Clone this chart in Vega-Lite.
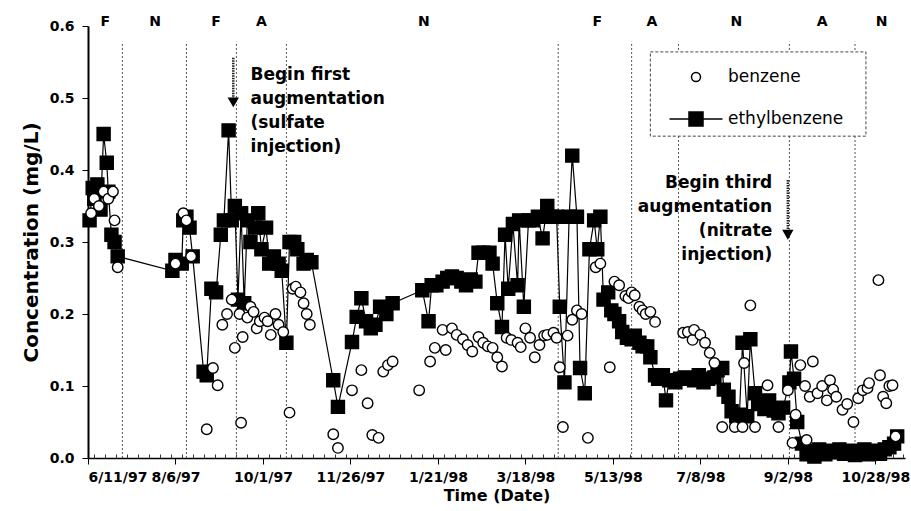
{
"$schema": "https://vega.github.io/schema/vega-lite/v6.json",
"width": 817, "height": 432,
"autosize": {"type": "none"},
"padding": {"left": 88, "top": 26, "right": 6, "bottom": 53},
"config": {"view": {"stroke": null}, "font": "DejaVu Sans",
  "axis": {"labelFont": "DejaVu Sans", "labelFontWeight": "bold", "labelFontSize": 14, "labelColor": "black", "titleFont": "DejaVu Sans", "titleFontWeight": "bold", "titleColor": "black", "tickColor": "black", "domainColor": "black", "grid": false},
  "legend": {"title": null, "orient": "none", "legendX": 597, "legendY": 40, "padding": 0,
    "symbolSize": 400, "symbolStrokeWidth": 1.5, "symbolStrokeColor": "black",
    "labelFont": "DejaVu Sans", "labelFontSize": 17, "labelColor": "black", "labelOffset": 21, "rowPadding": 23}},
"datasets": {
"conc": [
{"date":"1997-06-12","compound":"ethylbenzene","conc":0.33},
{"date":"1997-06-14","compound":"ethylbenzene","conc":0.375},
{"date":"1997-06-15","compound":"ethylbenzene","conc":0.36},
{"date":"1997-06-17","compound":"ethylbenzene","conc":0.38},
{"date":"1997-06-19","compound":"ethylbenzene","conc":0.345},
{"date":"1997-06-21","compound":"ethylbenzene","conc":0.45},
{"date":"1997-06-23","compound":"ethylbenzene","conc":0.41},
{"date":"1997-06-24","compound":"ethylbenzene","conc":0.37},
{"date":"1997-06-26","compound":"ethylbenzene","conc":0.31},
{"date":"1997-06-28","compound":"ethylbenzene","conc":0.30},
{"date":"1997-06-30","compound":"ethylbenzene","conc":0.28},
{"date":"1997-08-04","compound":"ethylbenzene","conc":0.26},
{"date":"1997-08-06","compound":"ethylbenzene","conc":0.275},
{"date":"1997-08-10","compound":"ethylbenzene","conc":0.27},
{"date":"1997-08-11","compound":"ethylbenzene","conc":0.33},
{"date":"1997-08-13","compound":"ethylbenzene","conc":0.335},
{"date":"1997-08-15","compound":"ethylbenzene","conc":0.32},
{"date":"1997-08-17","compound":"ethylbenzene","conc":0.28},
{"date":"1997-08-24","compound":"ethylbenzene","conc":0.12},
{"date":"1997-08-26","compound":"ethylbenzene","conc":0.115},
{"date":"1997-08-29","compound":"ethylbenzene","conc":0.235},
{"date":"1997-09-01","compound":"ethylbenzene","conc":0.23},
{"date":"1997-09-04","compound":"ethylbenzene","conc":0.31},
{"date":"1997-09-06","compound":"ethylbenzene","conc":0.33},
{"date":"1997-09-09","compound":"ethylbenzene","conc":0.455},
{"date":"1997-09-11","compound":"ethylbenzene","conc":0.33},
{"date":"1997-09-13","compound":"ethylbenzene","conc":0.35},
{"date":"1997-09-15","compound":"ethylbenzene","conc":0.22},
{"date":"1997-09-17","compound":"ethylbenzene","conc":0.34},
{"date":"1997-09-19","compound":"ethylbenzene","conc":0.215},
{"date":"1997-09-21","compound":"ethylbenzene","conc":0.33},
{"date":"1997-09-23","compound":"ethylbenzene","conc":0.30},
{"date":"1997-09-26","compound":"ethylbenzene","conc":0.32},
{"date":"1997-09-28","compound":"ethylbenzene","conc":0.34},
{"date":"1997-09-30","compound":"ethylbenzene","conc":0.29},
{"date":"1997-10-03","compound":"ethylbenzene","conc":0.32},
{"date":"1997-10-05","compound":"ethylbenzene","conc":0.27},
{"date":"1997-10-08","compound":"ethylbenzene","conc":0.28},
{"date":"1997-10-11","compound":"ethylbenzene","conc":0.27},
{"date":"1997-10-13","compound":"ethylbenzene","conc":0.26},
{"date":"1997-10-16","compound":"ethylbenzene","conc":0.16},
{"date":"1997-10-18","compound":"ethylbenzene","conc":0.30},
{"date":"1997-10-21","compound":"ethylbenzene","conc":0.30},
{"date":"1997-10-23","compound":"ethylbenzene","conc":0.29},
{"date":"1997-10-27","compound":"ethylbenzene","conc":0.27},
{"date":"1997-10-29","compound":"ethylbenzene","conc":0.275},
{"date":"1997-11-01","compound":"ethylbenzene","conc":0.272},
{"date":"1997-11-15","compound":"ethylbenzene","conc":0.108},
{"date":"1997-11-18","compound":"ethylbenzene","conc":0.071},
{"date":"1997-11-27","compound":"ethylbenzene","conc":0.161},
{"date":"1997-11-30","compound":"ethylbenzene","conc":0.196},
{"date":"1997-12-03","compound":"ethylbenzene","conc":0.222},
{"date":"1997-12-06","compound":"ethylbenzene","conc":0.19},
{"date":"1997-12-09","compound":"ethylbenzene","conc":0.18},
{"date":"1997-12-12","compound":"ethylbenzene","conc":0.185},
{"date":"1997-12-15","compound":"ethylbenzene","conc":0.21},
{"date":"1997-12-19","compound":"ethylbenzene","conc":0.20},
{"date":"1997-12-23","compound":"ethylbenzene","conc":0.215},
{"date":"1998-01-11","compound":"ethylbenzene","conc":0.233},
{"date":"1998-01-15","compound":"ethylbenzene","conc":0.19},
{"date":"1998-01-17","compound":"ethylbenzene","conc":0.24},
{"date":"1998-01-20","compound":"ethylbenzene","conc":0.24},
{"date":"1998-01-24","compound":"ethylbenzene","conc":0.245},
{"date":"1998-01-27","compound":"ethylbenzene","conc":0.25},
{"date":"1998-01-30","compound":"ethylbenzene","conc":0.252},
{"date":"1998-02-02","compound":"ethylbenzene","conc":0.25},
{"date":"1998-02-05","compound":"ethylbenzene","conc":0.245},
{"date":"1998-02-08","compound":"ethylbenzene","conc":0.24},
{"date":"1998-02-11","compound":"ethylbenzene","conc":0.248},
{"date":"1998-02-14","compound":"ethylbenzene","conc":0.245},
{"date":"1998-02-16","compound":"ethylbenzene","conc":0.285},
{"date":"1998-02-19","compound":"ethylbenzene","conc":0.285},
{"date":"1998-02-23","compound":"ethylbenzene","conc":0.285},
{"date":"1998-02-25","compound":"ethylbenzene","conc":0.27},
{"date":"1998-02-28","compound":"ethylbenzene","conc":0.215},
{"date":"1998-03-03","compound":"ethylbenzene","conc":0.182},
{"date":"1998-03-05","compound":"ethylbenzene","conc":0.31},
{"date":"1998-03-07","compound":"ethylbenzene","conc":0.235},
{"date":"1998-03-10","compound":"ethylbenzene","conc":0.325},
{"date":"1998-03-13","compound":"ethylbenzene","conc":0.24},
{"date":"1998-03-14","compound":"ethylbenzene","conc":0.33},
{"date":"1998-03-17","compound":"ethylbenzene","conc":0.21},
{"date":"1998-03-20","compound":"ethylbenzene","conc":0.33},
{"date":"1998-03-23","compound":"ethylbenzene","conc":0.33},
{"date":"1998-03-26","compound":"ethylbenzene","conc":0.335},
{"date":"1998-03-29","compound":"ethylbenzene","conc":0.305},
{"date":"1998-04-01","compound":"ethylbenzene","conc":0.35},
{"date":"1998-04-04","compound":"ethylbenzene","conc":0.335},
{"date":"1998-04-07","compound":"ethylbenzene","conc":0.335},
{"date":"1998-04-09","compound":"ethylbenzene","conc":0.21},
{"date":"1998-04-12","compound":"ethylbenzene","conc":0.105},
{"date":"1998-04-15","compound":"ethylbenzene","conc":0.335},
{"date":"1998-04-17","compound":"ethylbenzene","conc":0.42},
{"date":"1998-04-20","compound":"ethylbenzene","conc":0.335},
{"date":"1998-04-22","compound":"ethylbenzene","conc":0.125},
{"date":"1998-04-25","compound":"ethylbenzene","conc":0.09},
{"date":"1998-04-28","compound":"ethylbenzene","conc":0.29},
{"date":"1998-05-01","compound":"ethylbenzene","conc":0.33},
{"date":"1998-05-03","compound":"ethylbenzene","conc":0.29},
{"date":"1998-05-05","compound":"ethylbenzene","conc":0.335},
{"date":"1998-05-07","compound":"ethylbenzene","conc":0.22},
{"date":"1998-05-10","compound":"ethylbenzene","conc":0.23},
{"date":"1998-05-12","compound":"ethylbenzene","conc":0.205},
{"date":"1998-05-14","compound":"ethylbenzene","conc":0.20},
{"date":"1998-05-17","compound":"ethylbenzene","conc":0.19},
{"date":"1998-05-19","compound":"ethylbenzene","conc":0.175},
{"date":"1998-05-22","compound":"ethylbenzene","conc":0.167},
{"date":"1998-05-25","compound":"ethylbenzene","conc":0.165},
{"date":"1998-05-27","compound":"ethylbenzene","conc":0.17},
{"date":"1998-05-30","compound":"ethylbenzene","conc":0.16},
{"date":"1998-06-01","compound":"ethylbenzene","conc":0.155},
{"date":"1998-06-04","compound":"ethylbenzene","conc":0.155},
{"date":"1998-06-06","compound":"ethylbenzene","conc":0.14},
{"date":"1998-06-09","compound":"ethylbenzene","conc":0.115},
{"date":"1998-06-11","compound":"ethylbenzene","conc":0.11},
{"date":"1998-06-14","compound":"ethylbenzene","conc":0.115},
{"date":"1998-06-16","compound":"ethylbenzene","conc":0.08},
{"date":"1998-06-18","compound":"ethylbenzene","conc":0.108},
{"date":"1998-06-22","compound":"ethylbenzene","conc":0.105},
{"date":"1998-06-25","compound":"ethylbenzene","conc":0.11},
{"date":"1998-06-28","compound":"ethylbenzene","conc":0.112},
{"date":"1998-07-01","compound":"ethylbenzene","conc":0.11},
{"date":"1998-07-04","compound":"ethylbenzene","conc":0.108},
{"date":"1998-07-07","compound":"ethylbenzene","conc":0.115},
{"date":"1998-07-10","compound":"ethylbenzene","conc":0.105},
{"date":"1998-07-13","compound":"ethylbenzene","conc":0.11},
{"date":"1998-07-17","compound":"ethylbenzene","conc":0.112},
{"date":"1998-07-19","compound":"ethylbenzene","conc":0.122},
{"date":"1998-07-22","compound":"ethylbenzene","conc":0.125},
{"date":"1998-07-23","compound":"ethylbenzene","conc":0.095},
{"date":"1998-07-26","compound":"ethylbenzene","conc":0.085},
{"date":"1998-07-28","compound":"ethylbenzene","conc":0.065},
{"date":"1998-07-31","compound":"ethylbenzene","conc":0.058},
{"date":"1998-08-02","compound":"ethylbenzene","conc":0.06},
{"date":"1998-08-04","compound":"ethylbenzene","conc":0.16},
{"date":"1998-08-07","compound":"ethylbenzene","conc":0.058},
{"date":"1998-08-09","compound":"ethylbenzene","conc":0.165},
{"date":"1998-08-12","compound":"ethylbenzene","conc":0.09},
{"date":"1998-08-14","compound":"ethylbenzene","conc":0.075},
{"date":"1998-08-18","compound":"ethylbenzene","conc":0.068},
{"date":"1998-08-21","compound":"ethylbenzene","conc":0.08},
{"date":"1998-08-24","compound":"ethylbenzene","conc":0.066},
{"date":"1998-08-27","compound":"ethylbenzene","conc":0.062},
{"date":"1998-08-30","compound":"ethylbenzene","conc":0.07},
{"date":"1998-09-03","compound":"ethylbenzene","conc":0.105},
{"date":"1998-09-04","compound":"ethylbenzene","conc":0.148},
{"date":"1998-09-06","compound":"ethylbenzene","conc":0.11},
{"date":"1998-09-08","compound":"ethylbenzene","conc":0.05},
{"date":"1998-09-11","compound":"ethylbenzene","conc":0.02},
{"date":"1998-09-14","compound":"ethylbenzene","conc":0.005},
{"date":"1998-09-16","compound":"ethylbenzene","conc":0.01},
{"date":"1998-09-19","compound":"ethylbenzene","conc":0.002},
{"date":"1998-09-22","compound":"ethylbenzene","conc":0.012},
{"date":"1998-09-26","compound":"ethylbenzene","conc":0.005},
{"date":"1998-09-29","compound":"ethylbenzene","conc":0.01},
{"date":"1998-10-02","compound":"ethylbenzene","conc":0.008},
{"date":"1998-10-05","compound":"ethylbenzene","conc":0.012},
{"date":"1998-10-08","compound":"ethylbenzene","conc":0.006},
{"date":"1998-10-12","compound":"ethylbenzene","conc":0.01},
{"date":"1998-10-15","compound":"ethylbenzene","conc":0.004},
{"date":"1998-10-18","compound":"ethylbenzene","conc":0.008},
{"date":"1998-10-21","compound":"ethylbenzene","conc":0.012},
{"date":"1998-10-24","compound":"ethylbenzene","conc":0.005},
{"date":"1998-10-28","compound":"ethylbenzene","conc":0.01},
{"date":"1998-10-31","compound":"ethylbenzene","conc":0.006},
{"date":"1998-11-03","compound":"ethylbenzene","conc":0.012},
{"date":"1998-11-06","compound":"ethylbenzene","conc":0.015},
{"date":"1998-11-09","compound":"ethylbenzene","conc":0.02},
{"date":"1998-11-11","compound":"ethylbenzene","conc":0.03},
{"date":"1997-06-13","compound":"benzene","conc":0.34},
{"date":"1997-06-15","compound":"benzene","conc":0.36},
{"date":"1997-06-18","compound":"benzene","conc":0.35},
{"date":"1997-06-21","compound":"benzene","conc":0.37},
{"date":"1997-06-24","compound":"benzene","conc":0.36},
{"date":"1997-06-27","compound":"benzene","conc":0.37},
{"date":"1997-06-28","compound":"benzene","conc":0.33},
{"date":"1997-06-30","compound":"benzene","conc":0.265},
{"date":"1997-08-06","compound":"benzene","conc":0.27},
{"date":"1997-08-11","compound":"benzene","conc":0.34},
{"date":"1997-08-13","compound":"benzene","conc":0.33},
{"date":"1997-08-16","compound":"benzene","conc":0.28},
{"date":"1997-08-26","compound":"benzene","conc":0.04},
{"date":"1997-08-30","compound":"benzene","conc":0.125},
{"date":"1997-09-02","compound":"benzene","conc":0.101},
{"date":"1997-09-05","compound":"benzene","conc":0.185},
{"date":"1997-09-08","compound":"benzene","conc":0.20},
{"date":"1997-09-11","compound":"benzene","conc":0.22},
{"date":"1997-09-13","compound":"benzene","conc":0.153},
{"date":"1997-09-16","compound":"benzene","conc":0.20},
{"date":"1997-09-17","compound":"benzene","conc":0.049},
{"date":"1997-09-18","compound":"benzene","conc":0.168},
{"date":"1997-09-21","compound":"benzene","conc":0.195},
{"date":"1997-09-23","compound":"benzene","conc":0.21},
{"date":"1997-09-25","compound":"benzene","conc":0.203},
{"date":"1997-09-27","compound":"benzene","conc":0.18},
{"date":"1997-09-29","compound":"benzene","conc":0.19},
{"date":"1997-10-02","compound":"benzene","conc":0.195},
{"date":"1997-10-04","compound":"benzene","conc":0.19},
{"date":"1997-10-06","compound":"benzene","conc":0.171},
{"date":"1997-10-09","compound":"benzene","conc":0.20},
{"date":"1997-10-11","compound":"benzene","conc":0.185},
{"date":"1997-10-14","compound":"benzene","conc":0.175},
{"date":"1997-10-18","compound":"benzene","conc":0.063},
{"date":"1997-10-20","compound":"benzene","conc":0.235},
{"date":"1997-10-22","compound":"benzene","conc":0.238},
{"date":"1997-10-25","compound":"benzene","conc":0.23},
{"date":"1997-10-27","compound":"benzene","conc":0.215},
{"date":"1997-10-29","compound":"benzene","conc":0.20},
{"date":"1997-10-31","compound":"benzene","conc":0.185},
{"date":"1997-11-15","compound":"benzene","conc":0.033},
{"date":"1997-11-18","compound":"benzene","conc":0.014},
{"date":"1997-11-27","compound":"benzene","conc":0.094},
{"date":"1997-12-03","compound":"benzene","conc":0.122},
{"date":"1997-12-07","compound":"benzene","conc":0.076},
{"date":"1997-12-10","compound":"benzene","conc":0.032},
{"date":"1997-12-14","compound":"benzene","conc":0.028},
{"date":"1997-12-17","compound":"benzene","conc":0.12},
{"date":"1997-12-20","compound":"benzene","conc":0.129},
{"date":"1997-12-23","compound":"benzene","conc":0.134},
{"date":"1998-01-09","compound":"benzene","conc":0.094},
{"date":"1998-01-16","compound":"benzene","conc":0.134},
{"date":"1998-01-19","compound":"benzene","conc":0.153},
{"date":"1998-01-24","compound":"benzene","conc":0.178},
{"date":"1998-01-26","compound":"benzene","conc":0.15},
{"date":"1998-01-30","compound":"benzene","conc":0.18},
{"date":"1998-02-02","compound":"benzene","conc":0.171},
{"date":"1998-02-06","compound":"benzene","conc":0.165},
{"date":"1998-02-09","compound":"benzene","conc":0.157},
{"date":"1998-02-12","compound":"benzene","conc":0.148},
{"date":"1998-02-16","compound":"benzene","conc":0.168},
{"date":"1998-02-19","compound":"benzene","conc":0.16},
{"date":"1998-02-22","compound":"benzene","conc":0.155},
{"date":"1998-02-25","compound":"benzene","conc":0.153},
{"date":"1998-02-28","compound":"benzene","conc":0.14},
{"date":"1998-03-03","compound":"benzene","conc":0.127},
{"date":"1998-03-06","compound":"benzene","conc":0.167},
{"date":"1998-03-09","compound":"benzene","conc":0.164},
{"date":"1998-03-13","compound":"benzene","conc":0.16},
{"date":"1998-03-15","compound":"benzene","conc":0.154},
{"date":"1998-03-18","compound":"benzene","conc":0.18},
{"date":"1998-03-21","compound":"benzene","conc":0.167},
{"date":"1998-03-24","compound":"benzene","conc":0.14},
{"date":"1998-03-27","compound":"benzene","conc":0.157},
{"date":"1998-03-30","compound":"benzene","conc":0.17},
{"date":"1998-04-01","compound":"benzene","conc":0.171},
{"date":"1998-04-05","compound":"benzene","conc":0.174},
{"date":"1998-04-07","compound":"benzene","conc":0.167},
{"date":"1998-04-09","compound":"benzene","conc":0.126},
{"date":"1998-04-11","compound":"benzene","conc":0.043},
{"date":"1998-04-14","compound":"benzene","conc":0.17},
{"date":"1998-04-17","compound":"benzene","conc":0.192},
{"date":"1998-04-20","compound":"benzene","conc":0.205},
{"date":"1998-04-23","compound":"benzene","conc":0.20},
{"date":"1998-04-27","compound":"benzene","conc":0.028},
{"date":"1998-05-02","compound":"benzene","conc":0.265},
{"date":"1998-05-05","compound":"benzene","conc":0.27},
{"date":"1998-05-11","compound":"benzene","conc":0.126},
{"date":"1998-05-14","compound":"benzene","conc":0.245},
{"date":"1998-05-17","compound":"benzene","conc":0.24},
{"date":"1998-05-21","compound":"benzene","conc":0.225},
{"date":"1998-05-23","compound":"benzene","conc":0.222},
{"date":"1998-05-25","compound":"benzene","conc":0.23},
{"date":"1998-05-27","compound":"benzene","conc":0.226},
{"date":"1998-05-30","compound":"benzene","conc":0.21},
{"date":"1998-06-01","compound":"benzene","conc":0.205},
{"date":"1998-06-03","compound":"benzene","conc":0.20},
{"date":"1998-06-06","compound":"benzene","conc":0.203},
{"date":"1998-06-09","compound":"benzene","conc":0.189},
{"date":"1998-06-27","compound":"benzene","conc":0.174},
{"date":"1998-06-30","compound":"benzene","conc":0.175},
{"date":"1998-07-03","compound":"benzene","conc":0.164},
{"date":"1998-07-04","compound":"benzene","conc":0.178},
{"date":"1998-07-08","compound":"benzene","conc":0.171},
{"date":"1998-07-11","compound":"benzene","conc":0.16},
{"date":"1998-07-14","compound":"benzene","conc":0.146},
{"date":"1998-07-17","compound":"benzene","conc":0.132},
{"date":"1998-07-22","compound":"benzene","conc":0.043},
{"date":"1998-07-30","compound":"benzene","conc":0.043},
{"date":"1998-08-04","compound":"benzene","conc":0.043},
{"date":"1998-08-05","compound":"benzene","conc":0.132},
{"date":"1998-08-09","compound":"benzene","conc":0.212},
{"date":"1998-08-12","compound":"benzene","conc":0.043},
{"date":"1998-08-20","compound":"benzene","conc":0.101},
{"date":"1998-08-27","compound":"benzene","conc":0.043},
{"date":"1998-09-02","compound":"benzene","conc":0.094},
{"date":"1998-09-05","compound":"benzene","conc":0.021},
{"date":"1998-09-07","compound":"benzene","conc":0.06},
{"date":"1998-09-10","compound":"benzene","conc":0.129},
{"date":"1998-09-13","compound":"benzene","conc":0.10},
{"date":"1998-09-14","compound":"benzene","conc":0.025},
{"date":"1998-09-16","compound":"benzene","conc":0.085},
{"date":"1998-09-18","compound":"benzene","conc":0.134},
{"date":"1998-09-21","compound":"benzene","conc":0.09},
{"date":"1998-09-24","compound":"benzene","conc":0.10},
{"date":"1998-09-27","compound":"benzene","conc":0.08},
{"date":"1998-09-29","compound":"benzene","conc":0.108},
{"date":"1998-10-01","compound":"benzene","conc":0.095},
{"date":"1998-10-03","compound":"benzene","conc":0.085},
{"date":"1998-10-07","compound":"benzene","conc":0.067},
{"date":"1998-10-10","compound":"benzene","conc":0.075},
{"date":"1998-10-14","compound":"benzene","conc":0.05},
{"date":"1998-10-17","compound":"benzene","conc":0.083},
{"date":"1998-10-20","compound":"benzene","conc":0.094},
{"date":"1998-10-23","compound":"benzene","conc":0.097},
{"date":"1998-10-24","compound":"benzene","conc":0.104},
{"date":"1998-10-30","compound":"benzene","conc":0.247},
{"date":"1998-10-31","compound":"benzene","conc":0.115},
{"date":"1998-11-02","compound":"benzene","conc":0.085},
{"date":"1998-11-04","compound":"benzene","conc":0.076},
{"date":"1998-11-06","compound":"benzene","conc":0.10},
{"date":"1998-11-08","compound":"benzene","conc":0.101},
{"date":"1998-11-10","compound":"benzene","conc":0.03}
],
"events": [{"date":"1997-07-03"},{"date":"1997-08-13"},{"date":"1997-09-14"},{"date":"1997-10-16"},{"date":"1998-04-08"},{"date":"1998-05-25"},{"date":"1998-06-24"},{"date":"1998-09-03"},{"date":"1998-10-15"}],
"phases": [{"date":"1997-06-22","phase":"F"},{"date":"1997-07-24","phase":"N"},{"date":"1997-09-01","phase":"F"},{"date":"1997-09-30","phase":"A"},{"date":"1998-01-12","phase":"N"},{"date":"1998-05-03","phase":"F"},{"date":"1998-06-07","phase":"A"},{"date":"1998-07-31","phase":"N"},{"date":"1998-09-24","phase":"A"},{"date":"1998-11-01","phase":"N"}]
},
"resolve": {"axis": {"x": "independent", "y": "independent"}},
"layer": [
{
 "data": {"name": "events"},
 "mark": {"type": "rule", "strokeDash": [2, 2], "color": "#555", "strokeWidth": 1},
 "encoding": {
  "x": {"field": "date", "type": "temporal",
   "scale": {"type": "utc", "domain": [{"year":1997,"month":6,"date":11,"utc":true},{"year":1998,"month":11,"date":16,"utc":true}]},
   "axis": {"orient": "bottom", "title": "Time (Date)", "titleFontSize": 16, "titlePadding": 3, "format": "%-m/%-d/%y", "tickSize": 6, "labelPadding": 6, "domainWidth": 1.5, "labelOverlap": false,
    "values": [{"year":1997,"month":6,"date":11,"utc":true},{"year":1997,"month":8,"date":6,"utc":true},{"year":1997,"month":10,"date":1,"utc":true},{"year":1997,"month":11,"date":26,"utc":true},{"year":1998,"month":1,"date":21,"utc":true},{"year":1998,"month":3,"date":18,"utc":true},{"year":1998,"month":5,"date":13,"utc":true},{"year":1998,"month":7,"date":8,"utc":true},{"year":1998,"month":9,"date":2,"utc":true},{"year":1998,"month":10,"date":28,"utc":true}]}},
  "y": {"datum": 0, "type": "quantitative", "scale": {"domain": [0, 0.6], "nice": false},
   "axis": {"orient": "left", "title": "Concentration (mg/L)", "titleFontSize": 20, "titlePadding": 8, "values": [0, 0.1, 0.2, 0.3, 0.4, 0.5, 0.6], "format": ".1f", "tickSize": 6, "labelPadding": 8, "domainWidth": 2}},
  "y2": {"datum": 0.578}
 }
},
{
 "data": {"name": "phases"},
 "mark": {"type": "text", "font": "DejaVu Sans", "fontWeight": "bold", "fontSize": 14, "baseline": "middle", "dy": -4, "color": "black"},
 "encoding": {
  "x": {"field": "date", "type": "temporal",
   "axis": {"orient": "bottom", "title": null, "labels": false, "domain": false, "tickSize": -4, "tickColor": "#333", "tickCount": {"interval": "week", "step": 1}}},
  "y": {"datum": 0.6, "type": "quantitative", "axis": null},
  "text": {"field": "phase"}
 }
},
{
 "data": {"values": [{}]},
 "mark": {"type": "rect", "fill": "white", "stroke": "#444", "strokeDash": [3, 2], "strokeWidth": 1},
 "encoding": {
  "x": {"datum": {"year":1998,"month":6,"date":6,"utc":true}, "type": "temporal", "axis": null},
  "x2": {"datum": {"year":1998,"month":10,"date":22,"utc":true}},
  "y": {"datum": 0.447, "type": "quantitative", "axis": null},
  "y2": {"datum": 0.564}
 }
},
{
 "data": {"name": "conc"},
 "transform": [{"filter": "datum.compound === 'ethylbenzene'"}],
 "mark": {"type": "line", "color": "black", "strokeWidth": 1.2},
 "encoding": {
  "x": {"field": "date", "type": "temporal", "axis": null},
  "y": {"field": "conc", "type": "quantitative", "axis": null}
 }
},
{
 "data": {"name": "conc"},
 "mark": {"type": "point", "filled": false, "strokeWidth": 1.4, "opacity": 1},
 "encoding": {
  "x": {"field": "date", "type": "temporal", "axis": null},
  "y": {"field": "conc", "type": "quantitative", "axis": null},
  "shape": {"condition": {"test": "datum.compound === 'ethylbenzene'", "value": "square"}, "value": "circle"},
  "fill": {"condition": {"test": "datum.compound === 'ethylbenzene'", "value": "black"}, "value": "white"},
  "size": {"condition": {"test": "datum.compound === 'ethylbenzene'", "value": 170}, "value": 110},
  "stroke": {"value": "black"}
 }
},
{
 "data": {"name": "conc"},
 "transform": [{"filter": "false"}],
 "mark": {"type": "point", "filled": true, "opacity": 1, "strokeWidth": 1.5},
 "encoding": {
  "x": {"field": "date", "type": "temporal", "axis": null},
  "y": {"field": "conc", "type": "quantitative", "axis": null},
  "shape": {"field": "compound", "type": "nominal",
   "scale": {"domain": ["benzene", "ethylbenzene"], "range": ["M0.45,0A0.45,0.45,0,1,1,-0.45,0A0.45,0.45,0,1,1,0.45,0Z", "M-2.65,0L2.65,0M-0.7,-0.7L0.7,-0.7L0.7,0.7L-0.7,0.7Z"]}},
  "fill": {"field": "compound", "type": "nominal",
   "scale": {"domain": ["benzene", "ethylbenzene"], "range": ["white", "black"]}},
  "stroke": {"field": "compound", "type": "nominal",
   "scale": {"domain": ["benzene", "ethylbenzene"], "range": ["black", "black"]}}
 }
},
{
 "data": {"values": [{}]},
 "mark": {"type": "rule", "color": "#222", "strokeWidth": 2.5, "strokeDash": [1.5, 1]},
 "encoding": {
  "x": {"datum": {"year":1997,"month":9,"date":12,"utc":true}, "type": "temporal", "axis": null},
  "y": {"datum": 0.556, "type": "quantitative", "axis": null},
  "y2": {"datum": 0.5}
 }
},
{
 "data": {"values": [{}]},
 "mark": {"type": "point", "shape": "triangle-down", "filled": true, "color": "black", "size": 130, "opacity": 1},
 "encoding": {
  "x": {"datum": {"year":1997,"month":9,"date":12,"utc":true}, "type": "temporal", "axis": null},
  "y": {"datum": 0.494, "type": "quantitative", "axis": null}
 }
},
{
 "data": {"values": [{}]},
 "mark": {"type": "rule", "color": "#222", "strokeWidth": 2.5, "strokeDash": [1.5, 1]},
 "encoding": {
  "x": {"datum": {"year":1998,"month":9,"date":2,"utc":true}, "type": "temporal", "axis": null},
  "y": {"datum": 0.386, "type": "quantitative", "axis": null},
  "y2": {"datum": 0.318}
 }
},
{
 "data": {"values": [{}]},
 "mark": {"type": "point", "shape": "triangle-down", "filled": true, "color": "black", "size": 130, "opacity": 1},
 "encoding": {
  "x": {"datum": {"year":1998,"month":9,"date":2,"utc":true}, "type": "temporal", "axis": null},
  "y": {"datum": 0.31, "type": "quantitative", "axis": null}
 }
},
{
 "data": {"values": [{}]},
 "mark": {"type": "text", "font": "DejaVu Sans", "fontWeight": "bold", "fontSize": 17, "align": "left", "baseline": "top", "lineHeight": 24, "color": "black"},
 "encoding": {
  "x": {"datum": {"year":1997,"month":9,"date":23,"utc":true}, "type": "temporal", "axis": null},
  "y": {"datum": 0.543, "type": "quantitative", "axis": null},
  "text": {"value": ["Begin first", "augmentation", "(sulfate", "injection)"]}
 }
},
{
 "data": {"values": [{}]},
 "mark": {"type": "text", "font": "DejaVu Sans", "fontWeight": "bold", "fontSize": 17, "align": "right", "baseline": "top", "lineHeight": 24, "color": "black"},
 "encoding": {
  "x": {"datum": {"year":1998,"month":8,"date":23,"utc":true}, "type": "temporal", "axis": null},
  "y": {"datum": 0.393, "type": "quantitative", "axis": null},
  "text": {"value": ["Begin third", "augmentation", "(nitrate", "injection)"]}
 }
}
]
}
